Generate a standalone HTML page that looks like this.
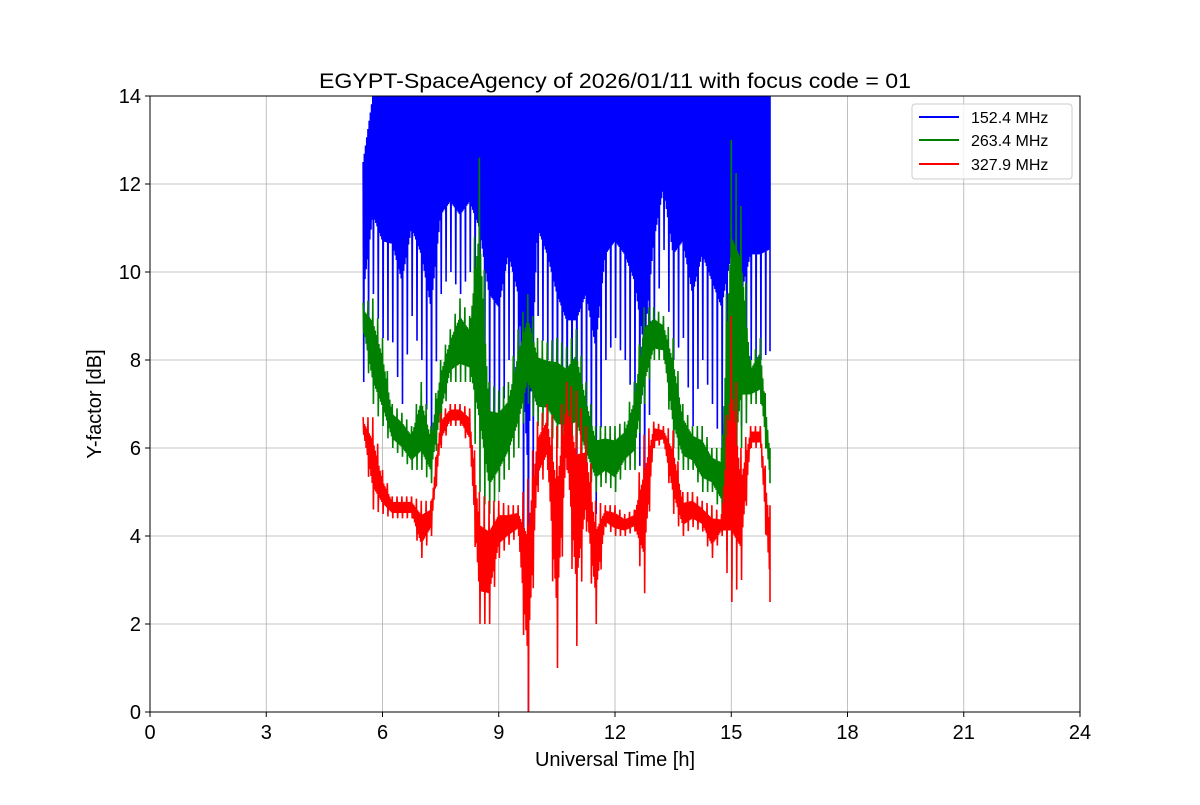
<!DOCTYPE html>
<html><head><meta charset="utf-8"><style>
body{margin:0;background:#fff;font-family:"Liberation Sans",sans-serif}
</style></head><body>
<svg width="1200" height="800" xmlns="http://www.w3.org/2000/svg" font-family="Liberation Sans, sans-serif">
<rect width="1200" height="800" fill="#fff"/>
<text x="615" y="88" font-size="21" text-anchor="middle" textLength="592" lengthAdjust="spacingAndGlyphs">EGYPT-SpaceAgency of 2026/01/11 with focus code = 01</text>
<g id="grid"></g>
<g id="series"></g>
<rect x="150" y="96" width="930" height="616" fill="none" stroke="#000" stroke-width="1"/>
<g id="ticks"></g>
<text x="615" y="766" font-size="20" text-anchor="middle">Universal Time [h]</text>
<text transform="translate(101,404) rotate(-90)" font-size="20" text-anchor="middle">Y-factor [dB]</text>
<g>
<rect x="912" y="104" width="160" height="75" rx="3" fill="#fff" fill-opacity="0.8" stroke="#ccc"/>
<line x1="919" y1="117" x2="959" y2="117" stroke="blue" stroke-width="2"/>
<text x="971" y="123" font-size="16">152.4 MHz</text>
<line x1="919" y1="140" x2="959" y2="140" stroke="green" stroke-width="2"/>
<text x="971" y="146" font-size="16">263.4 MHz</text>
<line x1="919" y1="164" x2="959" y2="164" stroke="red" stroke-width="2"/>
<text x="971" y="170" font-size="16">327.9 MHz</text>
</g>
</svg>
<script>
const times=[5.5,5.75,6,6.25,6.5,6.75,7,7.25,7.5,7.75,8,8.25,8.5,8.75,9,9.25,9.5,9.75,10,10.25,10.5,10.75,11,11.25,11.5,11.75,12,12.25,12.5,12.75,13,13.25,13.5,13.75,14,14.25,14.5,14.75,15,15.25,15.5,15.75,16];
const blueLo=[7.5,9.5,8.5,8.4,7,9,8,6,9.5,10,9.5,10,9,6.5,6,8,6.5,0,9,8,6.5,5.5,5.5,6.5,4.5,8,8.5,8,7,4.5,8.5,10.5,8,8.5,6.5,8,7,6,8,6.5,8,8,8.2];
const blueHi=[12.5,14,14,14,14,14,14,14,14,14,14,14,14,14,14,14,14,14,14,14,14,14,14,14,14,14,14,14,14,14,14,14,14,14,14,14,14,14,14,14,14,14,14];
const greenLo=[8.6,7,6.5,6,5.8,5.5,5.5,5.2,6.5,7.5,7.5,7.5,5,4.5,5,5.5,6,7,6.5,6.5,6,6,6,5.5,5,5.2,5,5.5,5.5,7,8,8,6,5.5,5.5,5,5,4.5,3,6,7,7,5.2];
const greenHi=[9.3,9.4,8.5,7,6.8,6.5,7.5,6.5,8,8.7,9.4,9,12.6,7.5,7.3,7.5,8.7,9.5,8.5,8.4,8.5,8.3,8.7,7.5,6.5,6.5,6.5,6.6,7.5,9.2,9.2,9,8.5,7,6.5,6.5,6,6,13,11.5,8,8.5,6];
const redLo=[6.3,4.6,4.5,4.4,4.4,4.4,3.5,4,6,6.5,6.5,6,2,2,3.5,3.8,4,0,5,5.5,1,5.5,1.5,4.1,2,4.2,4,4,4.1,2.7,6,6.1,4.5,4,4.2,4.1,3.5,4,2.5,3,6,6,2.5];
const redHi=[6.7,6.7,5.5,4.9,4.9,4.9,4.8,4.8,6.8,7,7,6.9,5,4.8,4.8,4.7,4.7,5.3,6.6,7,6.5,7.5,7.3,6.5,4.8,4.7,4.7,4.5,4.6,6.3,6.6,6.5,6.4,5,5,4.8,4.7,4.5,9,6,6.5,6.5,4.7];
const xTicks=[0,3,6,9,12,15,18,21,24];
const yTicks=[0,2,4,6,8,10,12,14];
const NS="http://www.w3.org/2000/svg";
const X=h=>150+h/24*930, Y=v=>712-v/14*616;
const grid=document.getElementById('grid'), ticks=document.getElementById('ticks'), ser=document.getElementById('series');
function mk(tag,attrs,parent){const e=document.createElementNS(NS,tag);for(const k in attrs)e.setAttribute(k,attrs[k]);parent.appendChild(e);return e;}
xTicks.forEach(t=>{
 const g=mk('line',{x1:X(t),x2:X(t),y1:96,y2:712,stroke:'#b0b0b0','stroke-width':0.8},grid);
 
 
 mk('line',{x1:X(t),x2:X(t),y1:712,y2:717,stroke:'#000'},ticks);
 const tx=mk('text',{x:X(t),y:739,'font-size':20,'text-anchor':'middle'},ticks);tx.textContent=t;
 
 
});
yTicks.forEach(t=>{
 const g=mk('line',{x1:150,x2:1080,y1:Y(t),y2:Y(t),stroke:'#b0b0b0','stroke-width':0.8},grid);
 
 
 mk('line',{x1:145,x2:150,y1:Y(t),y2:Y(t),stroke:'#000'},ticks);
 const tx=mk('text',{x:141,y:Y(t)+7,'font-size':20,'text-anchor':'end'},ticks);tx.textContent=t;
 
 
});
function series(lo,hi,color,name,cLo,cHi){
 let pts=[];
 for(let i=0;i<times.length;i++){
  const last=i===times.length-1;
  const t0=times[i], t1=last?t0:times[i+1];
  const n=last?1:8;
  const l1=last?lo[i]:lo[i+1], h1=last?hi[i]:hi[i+1];
  for(let k=0;k<n;k++){
   const f=k/n, f2=(k+0.5)/n;
   const la=lo[i]+(l1-lo[i])*f, ha=hi[i]+(h1-hi[i])*f;
   const lb=lo[i]+(l1-lo[i])*f2, hb=hi[i]+(h1-hi[i])*f2;
   let top,bot;
   if(k===0||k===4){top=k===0?hi[i]:ha;bot=k===0?lo[i]:lb;}
   else {top=ha-(ha-la)*cHi; bot=lb+(hb-lb)*cLo;}
   pts.push(X(t0+(t1-t0)*f)+','+Y(top));
   pts.push(X(t0+(t1-t0)*f2)+','+Y(bot));
  }
 }
 const p=mk('polyline',{points:pts.join(' '),fill:'none',stroke:color,'stroke-width':1.6,'stroke-linejoin':'miter'},ser);
 
 
}
series(blueLo,blueHi,'blue','series-152-mhz',0.4,0);
series(greenLo,greenHi,'green','series-263-mhz',0.22,0.22);
series(redLo,redHi,'red','series-327-mhz',0.25,0.25);
</script>
</body></html>
